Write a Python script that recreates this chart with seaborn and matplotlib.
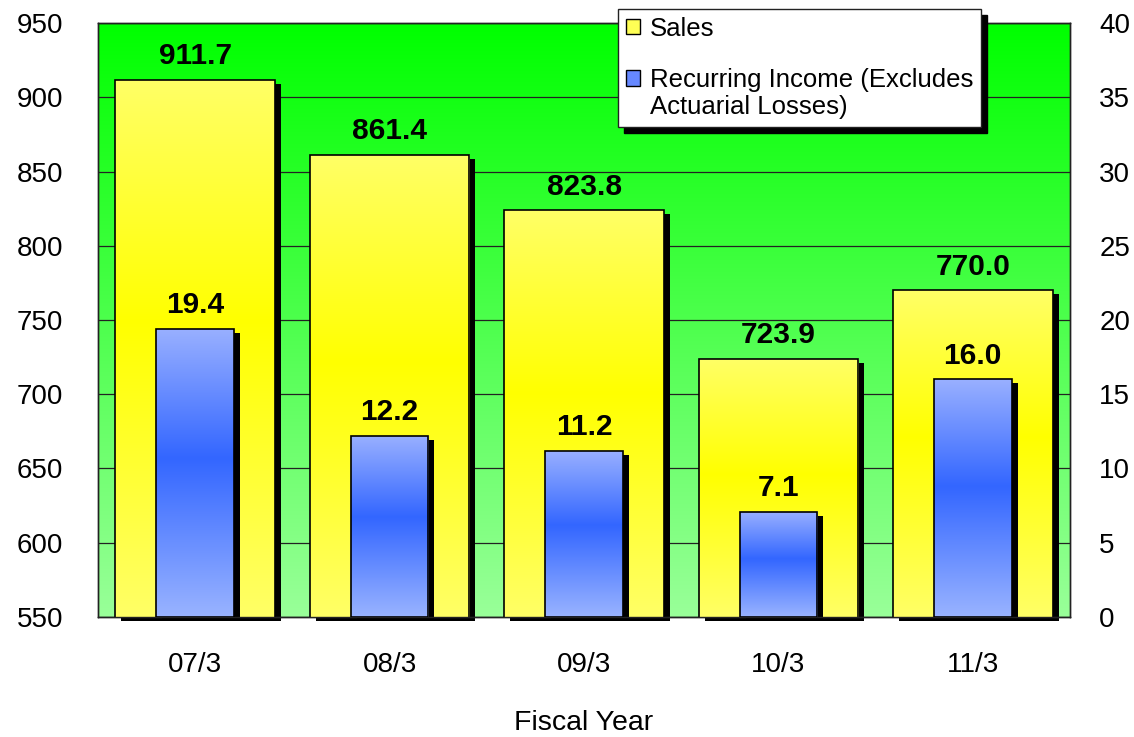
import numpy as np
import matplotlib
matplotlib.use("Agg")
import matplotlib.pyplot as plt
import matplotlib.colors as mcolors
from matplotlib.patches import Rectangle, Patch
from matplotlib.transforms import ScaledTranslation
from matplotlib.legend_handler import HandlerPatch
import seaborn as sns

# ---- data ----
years = ["07/3", "08/3", "09/3", "10/3", "11/3"]
sales = [911.7, 861.4, 823.8, 723.9, 770.0]
income = [19.4, 12.2, 11.2, 7.1, 16.0]
left_ticks = [550, 600, 650, 700, 750, 800, 850, 900, 950]
right_ticks = [0, 5, 10, 15, 20, 25, 30, 35, 40]
sales_label = "Sales"
income_label = "Recurring Income (Excludes\nActuarial Losses)"
xlabel = "Fiscal Year"

sns.set_style("white")
plt.rcParams["font.family"] = ["Liberation Sans", "DejaVu Sans"]
plt.rcParams["text.color"] = "black"
plt.rcParams["xtick.color"] = "black"
plt.rcParams["ytick.color"] = "black"
plt.rcParams["axes.labelcolor"] = "black"

fig = plt.figure(figsize=(11.34, 7.37), dpi=100)
ax = fig.add_axes([98 / 1134, 1 - 617 / 737, (1070 - 98) / 1134, (617 - 23) / 737])
ax2 = ax.twinx()
ax2.set_position(ax.get_position())


def vgrad(stops, n=256):
    pos = np.linspace(0, 1, n)
    p = [s for s, _ in stops]
    cols = np.array([mcolors.to_rgb(c) for _, c in stops])
    arr = np.stack([np.interp(pos, p, cols[:, k]) for k in range(3)], axis=-1)
    return np.repeat(arr[:, None, :], 2, axis=1)


bg = vgrad([(0, "#00FF00"), (1, "#99FF99")])
yellow = vgrad([(0, "#FFFF66"), (0.45, "#FFFF00"), (1, "#FFFF66")])
blue = vgrad([(0, "#99B0FF"), (0.45, "#3366FF"), (1, "#99B3FF")])

sns.barplot(x=years, y=sales, ax=ax, color="#FFFF55", width=0.82,
            edgecolor="black", linewidth=1.2, errorbar=None)
sns.barplot(x=years, y=income, ax=ax2, color="#6688FF", width=0.40,
            edgecolor="black", linewidth=1.2, errorbar=None)

ax.set_ylim(550, 950)
ax2.set_ylim(0, 40)
ax.set_xlim(-0.5, 4.5)

# background gradient
ax.imshow(bg, extent=[0, 1, 0, 1], transform=ax.transAxes, aspect="auto",
          interpolation="bilinear", zorder=0)

shadow_off = ScaledTranslation(6 / 100, -4 / 100, fig.dpi_scale_trans)


def style_bars(a, grad, ybot):
    for bar in a.containers[0]:
        x0, w, top = bar.get_x(), bar.get_width(), bar.get_y() + bar.get_height()
        a.add_patch(Rectangle((x0, ybot), w, top - ybot, facecolor="black",
                              edgecolor="none", zorder=2, clip_on=False,
                              transform=a.transData + shadow_off))
        im = a.imshow(grad, extent=[x0, x0 + w, ybot, top], aspect="auto",
                      interpolation="bilinear", zorder=3)
        im.set_clip_path(bar)
        bar.set_facecolor("none")
        bar.set_zorder(4)


style_bars(ax, yellow, 550)
style_bars(ax2, blue, 0)

ax.set_ylim(550, 950)
ax2.set_ylim(0, 40)
ax.set_xlim(-0.5, 4.5)

# value labels
for i, v in enumerate(sales):
    ax.annotate(f"{v:.1f}", (i, v), xytext=(0, 7), textcoords="offset points",
                ha="center", va="bottom", fontsize=21.5, fontweight="bold", zorder=6)
for i, v in enumerate(income):
    ax2.annotate(f"{v:.1f}", (i, v), xytext=(0, 7), textcoords="offset points",
                 ha="center", va="bottom", fontsize=21.5, fontweight="bold", zorder=6)

# axes styling
ax.set_yticks(left_ticks)
ax2.set_yticks(right_ticks)
ax.yaxis.grid(True, color="#222222", linewidth=0.9)
ax.set_axisbelow(True)
ax.xaxis.grid(False)
ax2.grid(False)
ax.tick_params(axis="y", length=0, pad=25, labelsize=20)
ax2.tick_params(axis="y", length=0, pad=21, labelsize=20)
ax.tick_params(axis="x", length=0, pad=25, labelsize=20)
ax.set_xlabel(xlabel, fontsize=20.5, labelpad=23)
ax.set_ylabel("")
ax2.set_ylabel("")
for a in (ax, ax2):
    for s in a.spines.values():
        s.set_color("#222222")
        s.set_linewidth(1.0)
        s.set_visible(True)


# legend
class ShiftedHandler(HandlerPatch):
    def __init__(self, shift, **kw):
        super().__init__(**kw)
        self.shift = shift

    def create_artists(self, legend, orig_handle, xdescent, ydescent, width,
                       height, fontsize, trans):
        r = Rectangle((-xdescent, -ydescent + self.shift * fontsize), width, height,
                      facecolor=orig_handle.get_facecolor(),
                      edgecolor="black", linewidth=1.0, transform=trans)
        return [r]


h1 = Patch(facecolor="#FFFF55", edgecolor="black")
h2 = Patch(facecolor="#6688FF", edgecolor="black")
leg = fig.legend(handles=[h1, h2], labels=[sales_label, income_label],
                 loc="upper left", bbox_to_anchor=(618 / 1134, 1 - 9 / 737),
                 bbox_transform=fig.transFigure, borderaxespad=0,
                 fontsize=18.5, frameon=True, fancybox=False, framealpha=1,
                 edgecolor="#222222", facecolor="white",
                 handlelength=0.55, handleheight=0.55, handletextpad=0.4,
                 labelspacing=1.05, borderpad=0.3,
                 shadow={"ox": 4, "oy": -4, "color": "black", "alpha": 1},
                 handler_map={h1: ShiftedHandler(0), h2: ShiftedHandler(0.62)})
leg.get_frame().set_linewidth(1.0)
for t in leg.get_texts():
    t.set_color("black")

fig.savefig("out.png", dpi=100)
